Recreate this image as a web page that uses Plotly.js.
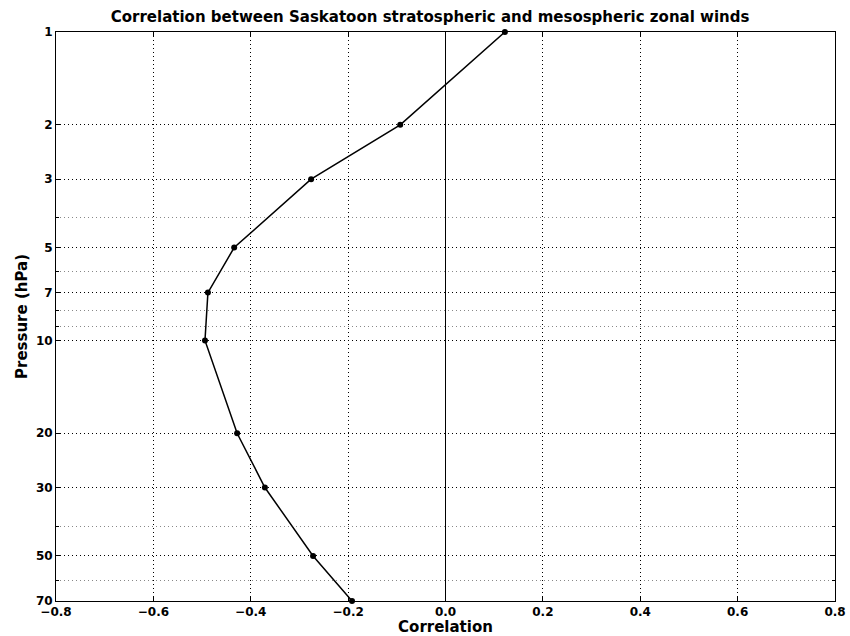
<!DOCTYPE html>
<html>
<head>
<meta charset="utf-8">
<script src="https://cdn.plot.ly/plotly-3.0.1.min.js"></script>
<style>html,body{margin:0;padding:0;background:#fff;}#chart{width:850px;height:636px;}</style>
</head>
<body>
<div id="chart"></div>
<script>
const pressure = [1, 2, 3, 5, 7, 10, 20, 30, 50, 70];
const correlation = [0.122, -0.093, -0.276, -0.434, -0.488, -0.494, -0.428, -0.371, -0.272, -0.192];
const yTickVals = [1, 2, 3, 5, 7, 10, 20, 30, 50, 70];
const yTickText = ['1', '2', '3', '5', '7', '10', '20', '30', '50', '70'];
const yMinorVals = [4, 6, 8, 9, 40, 60];
const xTickVals = [-0.8, -0.6, -0.4, -0.2, 0.0, 0.2, 0.4, 0.6, 0.8];
const xTickText = ['\u22120.8', '\u22120.6', '\u22120.4', '\u22120.2', '0.0', '0.2', '0.4', '0.6', '0.8'];

const font = {family: 'DejaVu Sans, sans-serif', color: '#000', size: 12, weight: 'bold'};
const titleFont = {family: 'DejaVu Sans, sans-serif', size: 15, weight: 'bold', color: '#000'};

const trace = {
  x: correlation, y: pressure, type: 'scatter', mode: 'lines+markers',
  line: {color: '#000', width: 1.5},
  marker: {color: '#000', size: 6},
  cliponaxis: false, showlegend: false
};

const layout = {
  width: 850, height: 636,
  margin: {l: 56, r: 15, t: 32, b: 35},
  paper_bgcolor: '#fff', plot_bgcolor: '#fff',
  font: font,
  title: {text: 'Correlation between Saskatoon stratospheric and mesospheric zonal winds',
          font: titleFont,
          x: 0.506, xanchor: 'center', y: 0.973, yanchor: 'middle'},
  xaxis: {
    range: [-0.8, 0.8], tickmode: 'array', tickvals: xTickVals, ticktext: xTickText,
    showgrid: true, gridcolor: '#000', griddash: '1px,3px', gridwidth: 1,
    zeroline: true, zerolinecolor: '#000', zerolinewidth: 1,
    showline: true, linecolor: '#000', linewidth: 1, mirror: 'ticks',
    ticks: 'inside', ticklen: 5, tickcolor: '#000',
    tickfont: font,
    title: {text: 'Correlation', font: titleFont, standoff: 5}
  },
  yaxis: {
    type: 'log', range: [Math.log10(70), 0],
    tickmode: 'array', tickvals: yTickVals, ticktext: yTickText,
    showgrid: true, gridcolor: '#000', griddash: '1px,3px', gridwidth: 1,
    minor: {tickmode: 'array', tickvals: yMinorVals, showgrid: true, gridcolor: '#888', griddash: '1px,3px', gridwidth: 1, ticks: 'inside', ticklen: 3, tickcolor: '#000'},
    zeroline: false,
    showline: true, linecolor: '#000', linewidth: 1, mirror: 'ticks',
    ticks: 'inside', ticklen: 5, tickcolor: '#000',
    tickfont: font,
    title: {text: 'Pressure (hPa)', font: titleFont, standoff: 4}
  }
};

Plotly.newPlot('chart', [trace], layout, {displayModeBar: false, staticPlot: true});
</script>
</body>
</html>
